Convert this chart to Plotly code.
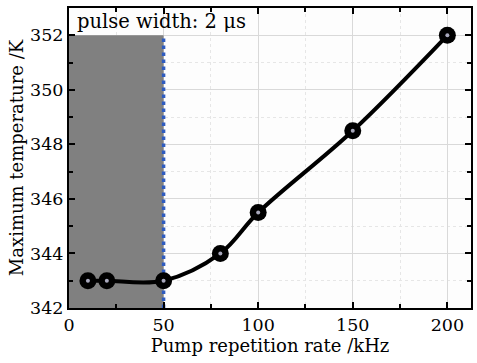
import plotly.graph_objects as go

rate_khz = [10, 20, 50, 80, 100, 150, 200]
max_temp_k = [343.0, 343.0, 343.0, 344.0, 345.5, 348.5, 352.0]
shade_x = [0, 50]
shade_y = [342, 352]
x_ticks = [0, 50, 100, 150, 200]
y_ticks = [342, 344, 346, 348, 350, 352]
label_text = "pulse width: 2 μs"

FONT = "DejaVu Serif"

fig = go.Figure()

fig.add_trace(go.Scatter(
    x=rate_khz, y=max_temp_k, mode="lines",
    line=dict(color="black", width=4, shape="spline", smoothing=1.0),
    hoverinfo="skip", showlegend=False))

fig.add_trace(go.Scatter(
    x=rate_khz, y=max_temp_k, mode="markers",
    marker=dict(size=17, color="black", line=dict(width=0)),
    showlegend=False))

fig.add_trace(go.Scatter(
    x=rate_khz, y=max_temp_k, mode="markers",
    marker=dict(size=4, color="#a8a8bc", line=dict(width=0)),
    hoverinfo="skip", showlegend=False))

fig.add_shape(type="rect", xref="x", yref="y",
              x0=shade_x[0], x1=shade_x[1], y0=shade_y[0], y1=shade_y[1],
              fillcolor="#808080", line=dict(width=0), layer="between")
fig.add_shape(type="line", xref="x", yref="y",
              x0=shade_x[1], x1=shade_x[1], y0=shade_y[0], y1=shade_y[1],
              line=dict(color="#2f5cc0", width=3.5, dash="dot"), layer="between")

fig.add_annotation(x=3, y=352.5, xref="x", yref="y", text=label_text,
                   showarrow=False, xanchor="left", yanchor="middle",
                   font=dict(family=FONT, size=19.5, color="black"))

axis_common = dict(
    showline=True, linecolor="black", linewidth=2, mirror="ticks",
    ticks="inside", ticklen=6, tickwidth=1.5, tickcolor="black",
    showgrid=True, gridcolor="#d9d9d9", gridwidth=1,
    zeroline=False,
    tickfont=dict(family=FONT, size=17.5, color="black"),
)

fig.update_xaxes(
    range=[0, 212.5], tickvals=x_ticks,
    title=dict(text="Pump repetition rate /kHz", standoff=2,
               font=dict(family=FONT, size=18, color="black")),
    minor=dict(dtick=25, ticks="inside", ticklen=4, tickcolor="black",
               showgrid=True, gridcolor="#e6e6e6", griddash="dot"),
    **axis_common)
fig.update_yaxes(
    range=[342, 353], tickvals=y_ticks,
    title=dict(text="Maximum temperature /K", standoff=2,
               font=dict(family=FONT, size=18, color="black")),
    minor=dict(dtick=1, ticks="inside", ticklen=4, tickcolor="black",
               showgrid=True, gridcolor="#e6e6e6", griddash="dot"),
    **axis_common)

fig.update_layout(
    width=477, height=363,
    margin=dict(l=69, r=4, t=8, b=55),
    paper_bgcolor="white", plot_bgcolor="#fdfdfd",
    font=dict(family=FONT, color="black"),
)

fig.write_html("out.html")
